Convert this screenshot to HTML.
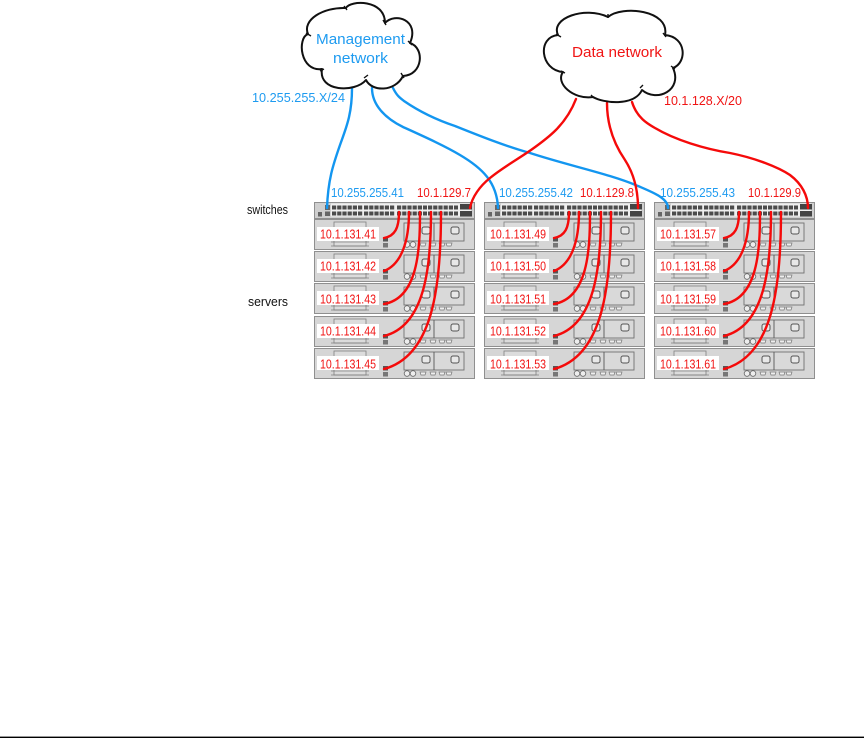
<!DOCTYPE html>
<html>
<head>
<meta charset="utf-8">
<style>
html,body{margin:0;padding:0;background:#fff;width:864px;height:738px;overflow:hidden}
svg{display:block}
text{font-family:"Liberation Sans",sans-serif}
.b{fill:#1e9bf0}
.r{fill:#f01414}
.k{fill:#111}
.wb{fill:none;stroke:#1396f0;stroke-width:2.4;stroke-linecap:round}
.wr{fill:none;stroke:#f50a0a;stroke-width:2.4;stroke-linecap:round}
.cl{fill:#fff;stroke:#111;stroke-width:2;stroke-linejoin:round}
.tick{fill:none;stroke:#111;stroke-width:1.4}
</style>
</head>
<body>
<svg width="864" height="738" viewBox="0 0 864 738" xmlns="http://www.w3.org/2000/svg">
<defs>
<g id="srv">
  <rect x="0.5" y="0.5" width="160" height="30" fill="#d6d6d6" stroke="#8f8f8f"/>
  <rect x="20" y="3" width="32" height="24" fill="#dcdcdc" stroke="#808080" stroke-width=".8"/>
  <path d="M20 18H52M17 23H55M17 27H55" stroke="#808080" stroke-width=".8" fill="none"/>
  <rect x="69" y="18" width="5" height="4.5" fill="#555"/>
  <rect x="69" y="24" width="5" height="4.5" fill="#777"/>
  <rect x="90" y="4" width="60" height="18" fill="#d9d9d9" stroke="#707070" stroke-width=".9"/>
  <path d="M120 4V22" stroke="#555" stroke-width=".9"/>
  <rect x="108" y="8" width="8" height="7" rx="2" fill="#e8e8e8" stroke="#555"/>
  <rect x="137" y="8" width="8" height="7" rx="2" fill="#e8e8e8" stroke="#555"/>
  <circle cx="93" cy="25.5" r="2.8" fill="#eee" stroke="#666" stroke-width=".8"/>
  <circle cx="99" cy="25.5" r="2.8" fill="#eee" stroke="#666" stroke-width=".8"/>
  <path d="M106 24h6l-1 3h-4zM116 24h6l-1 3h-4zM125 24h6l-1 3h-4zM132 24h6l-1 3h-4z" fill="#eee" stroke="#777" stroke-width=".7"/>
</g>
<g id="sw">
  <rect x="0.5" y="0.5" width="160" height="16" fill="#cfcfcf" stroke="#8f8f8f"/>
  <rect x="17" y="1.5" width="140" height="13" fill="#f0f0f0"/>
  <path d="M18 5.5H49M50 5.5H81M83 5.5H113M114 5.5H144M18 11.5H49M50 11.5H81M83 11.5H113M114 11.5H144" stroke="#4c4c4c" stroke-width="4" stroke-dasharray="4.2 1" fill="none"/>
  <rect x="146" y="2" width="12" height="5.5" fill="#444"/>
  <rect x="146" y="9" width="12" height="5.5" fill="#444"/>
  <rect x="4" y="10" width="4" height="4.5" fill="#666"/>
  <rect x="11" y="3" width="5" height="5" fill="#666"/>
  <rect x="11" y="9.5" width="5" height="4.5" fill="#666"/>
</g>
<g id="rack">
  <use href="#sw" x="0" y="0"/>
  <use href="#srv" x="0" y="17"/>
  <use href="#srv" x="0" y="49"/>
  <use href="#srv" x="0" y="81"/>
  <use href="#srv" x="0" y="114"/>
  <use href="#srv" x="0" y="146"/>
  <g fill="#fff">
    <rect x="3" y="25" width="62" height="14"/>
    <rect x="3" y="57" width="62" height="14"/>
    <rect x="3" y="89" width="62" height="14"/>
    <rect x="3" y="122" width="62" height="14"/>
    <rect x="3" y="154" width="62" height="14"/>
  </g>
  <g class="wr">
    <path d="M85 10C85 26 81 34 70 36"/>
    <path d="M95 10C95 38 88 62 70 69"/>
    <path d="M106 10C106 48 104 96 70 102"/>
    <path d="M117 10C117 68 110 124 70 134"/>
    <path d="M127 10C127 88 118 154 70 167"/>
  </g>
</g>
</defs>

<rect x="0" y="736.6" width="864" height="1.4" fill="#000"/>

<use href="#rack" x="314" y="202"/>
<use href="#rack" x="484" y="202"/>
<use href="#rack" x="654" y="202"/>

<!-- uplinks -->
<path class="wb" d="M352 88C352 115 346 128 340 145C333 165 328 180 327 208"/>
<path class="wb" d="M372 88C372 105 385 118 403 127C425 137 445 146 460 155C482 168 497 182 498 208"/>
<path class="wb" d="M393 88C397 96 400 98 404 101C420 112 437 120 455 126C480 136 505 146 530 153C570 166 610 174 638 186C652 192 668 198 668 208"/>
<path class="wr" d="M576 99C566 125 548 138 531 150C515 161 502 168 490 178C480 186 472 197 470 208"/>
<path class="wr" d="M607 103C607 125 614 144 625 160C634 174 638 190 638 208"/>
<path class="wr" d="M632 102C637 118 648 124 655 128C675 140 705 149 730 153C755 158 778 167 790 175C802 184 808 196 808 208"/>

<!-- clouds -->
<path class="cl" d="M308 34C302 20 323 7 346 8C350 0 385 -1 385 23C395 12 420 20 410 43C425 48 423 75 403 76C395 92 372 92 366 80C355 93 318 92 322 69C300 72 297 38 308 34Z"/>
<path class="tick" d="M306 33l5 3M344 6l3 4M383 20l3 5M408 41l4 4M401 73l3 5M364 78l4-3M320 71l4-2"/>
<path class="cl" d="M558 35C550 18 585 6 608 17C622 5 670 10 665 35C687 37 687 63 673 68C683 90 657 103 642 90C634 107 603 103 593 97C573 100 555 83 563 72C540 70 537 37 558 35Z"/>
<path class="tick" d="M556 34l5 3M608 14v4M663 33l3 4M671 66l4 3M640 88l3-3M591 95l3 3M561 71l4 2"/>

<!-- network labels -->
<text class="b" x="316" y="44" font-size="15" textLength="89" lengthAdjust="spacingAndGlyphs">Management</text>
<text class="b" x="333" y="63" font-size="15" textLength="55" lengthAdjust="spacingAndGlyphs">network</text>
<text class="r" x="572" y="57" font-size="15" textLength="90" lengthAdjust="spacingAndGlyphs">Data network</text>
<text class="b" x="252" y="102" font-size="12.5" textLength="93" lengthAdjust="spacingAndGlyphs">10.255.255.X/24</text>
<text class="r" x="664" y="105" font-size="12.5" textLength="78" lengthAdjust="spacingAndGlyphs">10.1.128.X/20</text>

<text class="k" x="247" y="214" font-size="12.5" textLength="41" lengthAdjust="spacingAndGlyphs">switches</text>
<text class="k" x="248" y="306" font-size="12.5" textLength="40" lengthAdjust="spacingAndGlyphs">servers</text>

<!-- switch labels -->
<g font-size="12.5">
<text class="b" x="331" y="197" textLength="73" lengthAdjust="spacingAndGlyphs">10.255.255.41</text>
<text class="r" x="417" y="197" textLength="54" lengthAdjust="spacingAndGlyphs">10.1.129.7</text>
<text class="b" x="499" y="197" textLength="74" lengthAdjust="spacingAndGlyphs">10.255.255.42</text>
<text class="r" x="580" y="197" textLength="54" lengthAdjust="spacingAndGlyphs">10.1.129.8</text>
<text class="b" x="660" y="197" textLength="75" lengthAdjust="spacingAndGlyphs">10.255.255.43</text>
<text class="r" x="748" y="197" textLength="53" lengthAdjust="spacingAndGlyphs">10.1.129.9</text>
</g>

<!-- server labels -->
<g font-size="12.5">
<text class="r" x="320" y="238.5" textLength="56" lengthAdjust="spacingAndGlyphs">10.1.131.41</text>
<text class="r" x="320" y="270.5" textLength="56" lengthAdjust="spacingAndGlyphs">10.1.131.42</text>
<text class="r" x="320" y="303.5" textLength="56" lengthAdjust="spacingAndGlyphs">10.1.131.43</text>
<text class="r" x="320" y="335.5" textLength="56" lengthAdjust="spacingAndGlyphs">10.1.131.44</text>
<text class="r" x="320" y="368.5" textLength="56" lengthAdjust="spacingAndGlyphs">10.1.131.45</text>
<text class="r" x="490" y="238.5" textLength="56" lengthAdjust="spacingAndGlyphs">10.1.131.49</text>
<text class="r" x="490" y="270.5" textLength="56" lengthAdjust="spacingAndGlyphs">10.1.131.50</text>
<text class="r" x="490" y="303.5" textLength="56" lengthAdjust="spacingAndGlyphs">10.1.131.51</text>
<text class="r" x="490" y="335.5" textLength="56" lengthAdjust="spacingAndGlyphs">10.1.131.52</text>
<text class="r" x="490" y="368.5" textLength="56" lengthAdjust="spacingAndGlyphs">10.1.131.53</text>
<text class="r" x="660" y="238.5" textLength="56" lengthAdjust="spacingAndGlyphs">10.1.131.57</text>
<text class="r" x="660" y="270.5" textLength="56" lengthAdjust="spacingAndGlyphs">10.1.131.58</text>
<text class="r" x="660" y="303.5" textLength="56" lengthAdjust="spacingAndGlyphs">10.1.131.59</text>
<text class="r" x="660" y="335.5" textLength="56" lengthAdjust="spacingAndGlyphs">10.1.131.60</text>
<text class="r" x="660" y="368.5" textLength="56" lengthAdjust="spacingAndGlyphs">10.1.131.61</text>
</g>
</svg>
</body>
</html>
